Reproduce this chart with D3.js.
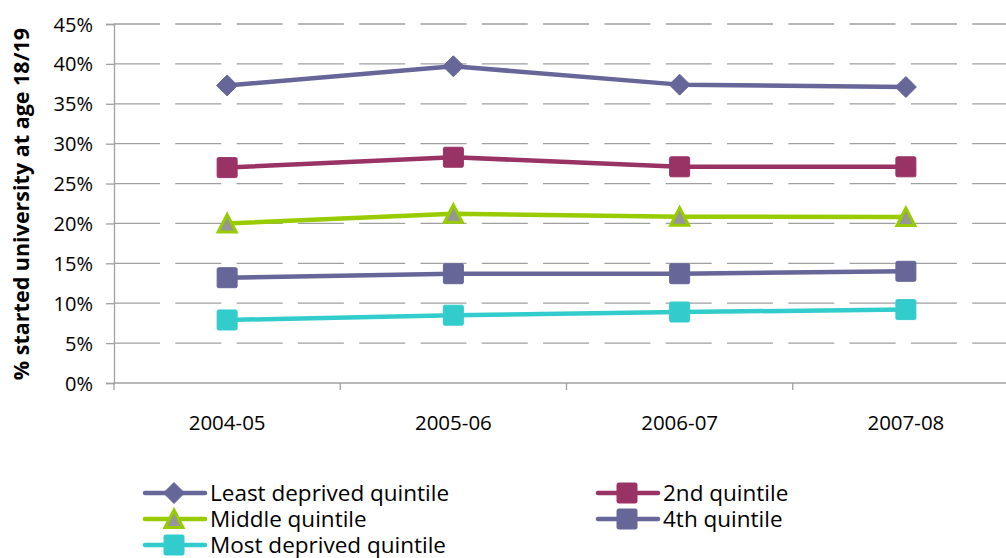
<!DOCTYPE html>
<html>
<head>
<meta charset="utf-8">
<script src="https://cdn.jsdelivr.net/npm/d3@7"></script>
<style>
  body { margin: 0; background: #fff; }
  text { font-family: "Open Sans", "Noto Sans", sans-serif; fill: #000; }
</style>
</head>
<body>
<svg id="chart" width="1006" height="558"></svg>
<script>
// Share of young people starting university at 18/19, by deprivation quintile
const years = ["2004-05", "2005-06", "2006-07", "2007-08"];
const leastDeprived = [37.3, 39.7, 37.4, 37.1];
const secondQuintile = [27.0, 28.3, 27.1, 27.1];
const middleQuintile = [20.0, 21.2, 20.85, 20.8];
const fourthQuintile = [13.2, 13.7, 13.7, 14.0];
const mostDeprived = [7.9, 8.5, 8.9, 9.2];
const yTicks = [0, 5, 10, 15, 20, 25, 30, 35, 40, 45];

const series = [
  { name: "Least deprived quintile", values: leastDeprived, color: "#666699", marker: "diamond" },
  { name: "2nd quintile", values: secondQuintile, color: "#993366", marker: "square" },
  { name: "Middle quintile", values: middleQuintile, color: "#99cc00", marker: "triangle" },
  { name: "4th quintile", values: fourthQuintile, color: "#666699", marker: "square" },
  { name: "Most deprived quintile", values: mostDeprived, color: "#33cccc", marker: "square" }
];

const svg = d3.select("#chart");
const plotLeft = 114, plotTop = 24, plotBottom = 383, band = 226.25;

const x = d3.scaleBand().domain(years).range([plotLeft, plotLeft + band * years.length]).padding(0);
const y = d3.scaleLinear().domain([0, 45]).range([plotBottom, plotTop]);

// dashed horizontal gridlines
svg.append("g").selectAll("line")
  .data(yTicks.filter(d => d > 0))
  .join("line")
  .attr("x1", plotLeft).attr("x2", 1006)
  .attr("y1", d => y(d)).attr("y2", d => y(d))
  .attr("stroke", "#a0a0a0").attr("stroke-width", 1.3)
  .attr("stroke-dasharray", "46,15.3");

// y axis
const yAxis = d3.axisLeft(y).tickValues(yTicks).tickSize(8).tickPadding(13)
  .tickFormat(d => d + "%");
const gy = svg.append("g").attr("transform", `translate(${plotLeft},0)`).call(yAxis);
gy.select(".domain").attr("stroke", "#a0a0a0").attr("stroke-width", 1.3);
gy.selectAll(".tick line").attr("stroke", "#a0a0a0").attr("stroke-width", 1.3);
gy.selectAll(".tick text").style("font-size", "20px").attr("fill", "#000").attr("dy", "0.35em");

// x axis with ticks at category boundaries
const gx = svg.append("g").attr("transform", `translate(0,${plotBottom})`);
gx.append("line").attr("x1", plotLeft).attr("x2", 1006).attr("y1", 0).attr("y2", 0)
  .attr("stroke", "#a0a0a0").attr("stroke-width", 1.3);
gx.selectAll("line.tk").data(years.slice(1)).join("line").attr("class", "tk")
  .attr("x1", d => x(d)).attr("x2", d => x(d)).attr("y1", 0).attr("y2", 7)
  .attr("stroke", "#a0a0a0").attr("stroke-width", 1.3);
gx.append("line").attr("x1", plotLeft).attr("x2", plotLeft).attr("y1", 0).attr("y2", 7)
  .attr("stroke", "#a0a0a0").attr("stroke-width", 1.3);
gx.selectAll("text").data(years).join("text")
  .attr("x", d => x(d) + x.bandwidth() / 2).attr("y", 47)
  .attr("text-anchor", "middle").style("font-size", "20.5px").text(d => d);

// y axis title
svg.append("text")
  .attr("transform", "translate(29,204) rotate(-90)")
  .attr("text-anchor", "middle")
  .style("font-size", "21.5px").style("font-weight", "bold")
  .text("% started university at age 18/19");

function drawMarker(g, type, color, cx, cy) {
  if (type === "diamond") {
    g.append("path")
      .attr("d", `M${cx},${cy - 10.5}L${cx + 10.5},${cy}L${cx},${cy + 10.5}L${cx - 10.5},${cy}Z`)
      .attr("fill", color).attr("stroke", color).attr("stroke-width", 1);
  } else if (type === "square") {
    g.append("rect").attr("x", cx - 10).attr("y", cy - 10).attr("width", 20).attr("height", 20)
      .attr("rx", 1.5).attr("fill", color).attr("stroke", color).attr("stroke-width", 1);
  } else {
    g.append("path")
      .attr("d", `M${cx},${cy - 9}L${cx + 9},${cy + 8.5}L${cx - 9},${cy + 8.5}Z`)
      .attr("fill", "#969696").attr("stroke", color).attr("stroke-width", 3)
      .attr("stroke-linejoin", "miter");
  }
}

const line = d3.line()
  .x((d, i) => x(years[i]) + x.bandwidth() / 2)
  .y(d => y(d));

series.forEach(s => {
  const g = svg.append("g");
  g.append("path").datum(s.values).attr("d", line)
    .attr("fill", "none").attr("stroke", s.color).attr("stroke-width", 4.5)
    .attr("stroke-linejoin", "round");
  s.values.forEach((v, i) => drawMarker(g, s.marker, s.color, x(years[i]) + x.bandwidth() / 2, y(v)));
});

// legend: two columns, filled row by row
const legendPos = [
  { lx: 145, ly: 493 }, { lx: 598, ly: 493 },
  { lx: 145, ly: 519 }, { lx: 598, ly: 519 },
  { lx: 145, ly: 545 }
];
series.forEach((s, i) => {
  const p = legendPos[i];
  const g = svg.append("g");
  g.append("line").attr("x1", p.lx).attr("x2", p.lx + 60).attr("y1", p.ly).attr("y2", p.ly)
    .attr("stroke", s.color).attr("stroke-width", 4.5).attr("stroke-linecap", "round");
  drawMarker(g, s.marker, s.color, p.lx + 29, p.ly);
  g.append("text").attr("x", p.lx + 65).attr("y", p.ly).attr("dy", "0.36em")
    .style("font-size", "22.5px").text(s.name);
});
</script>
</body>
</html>
